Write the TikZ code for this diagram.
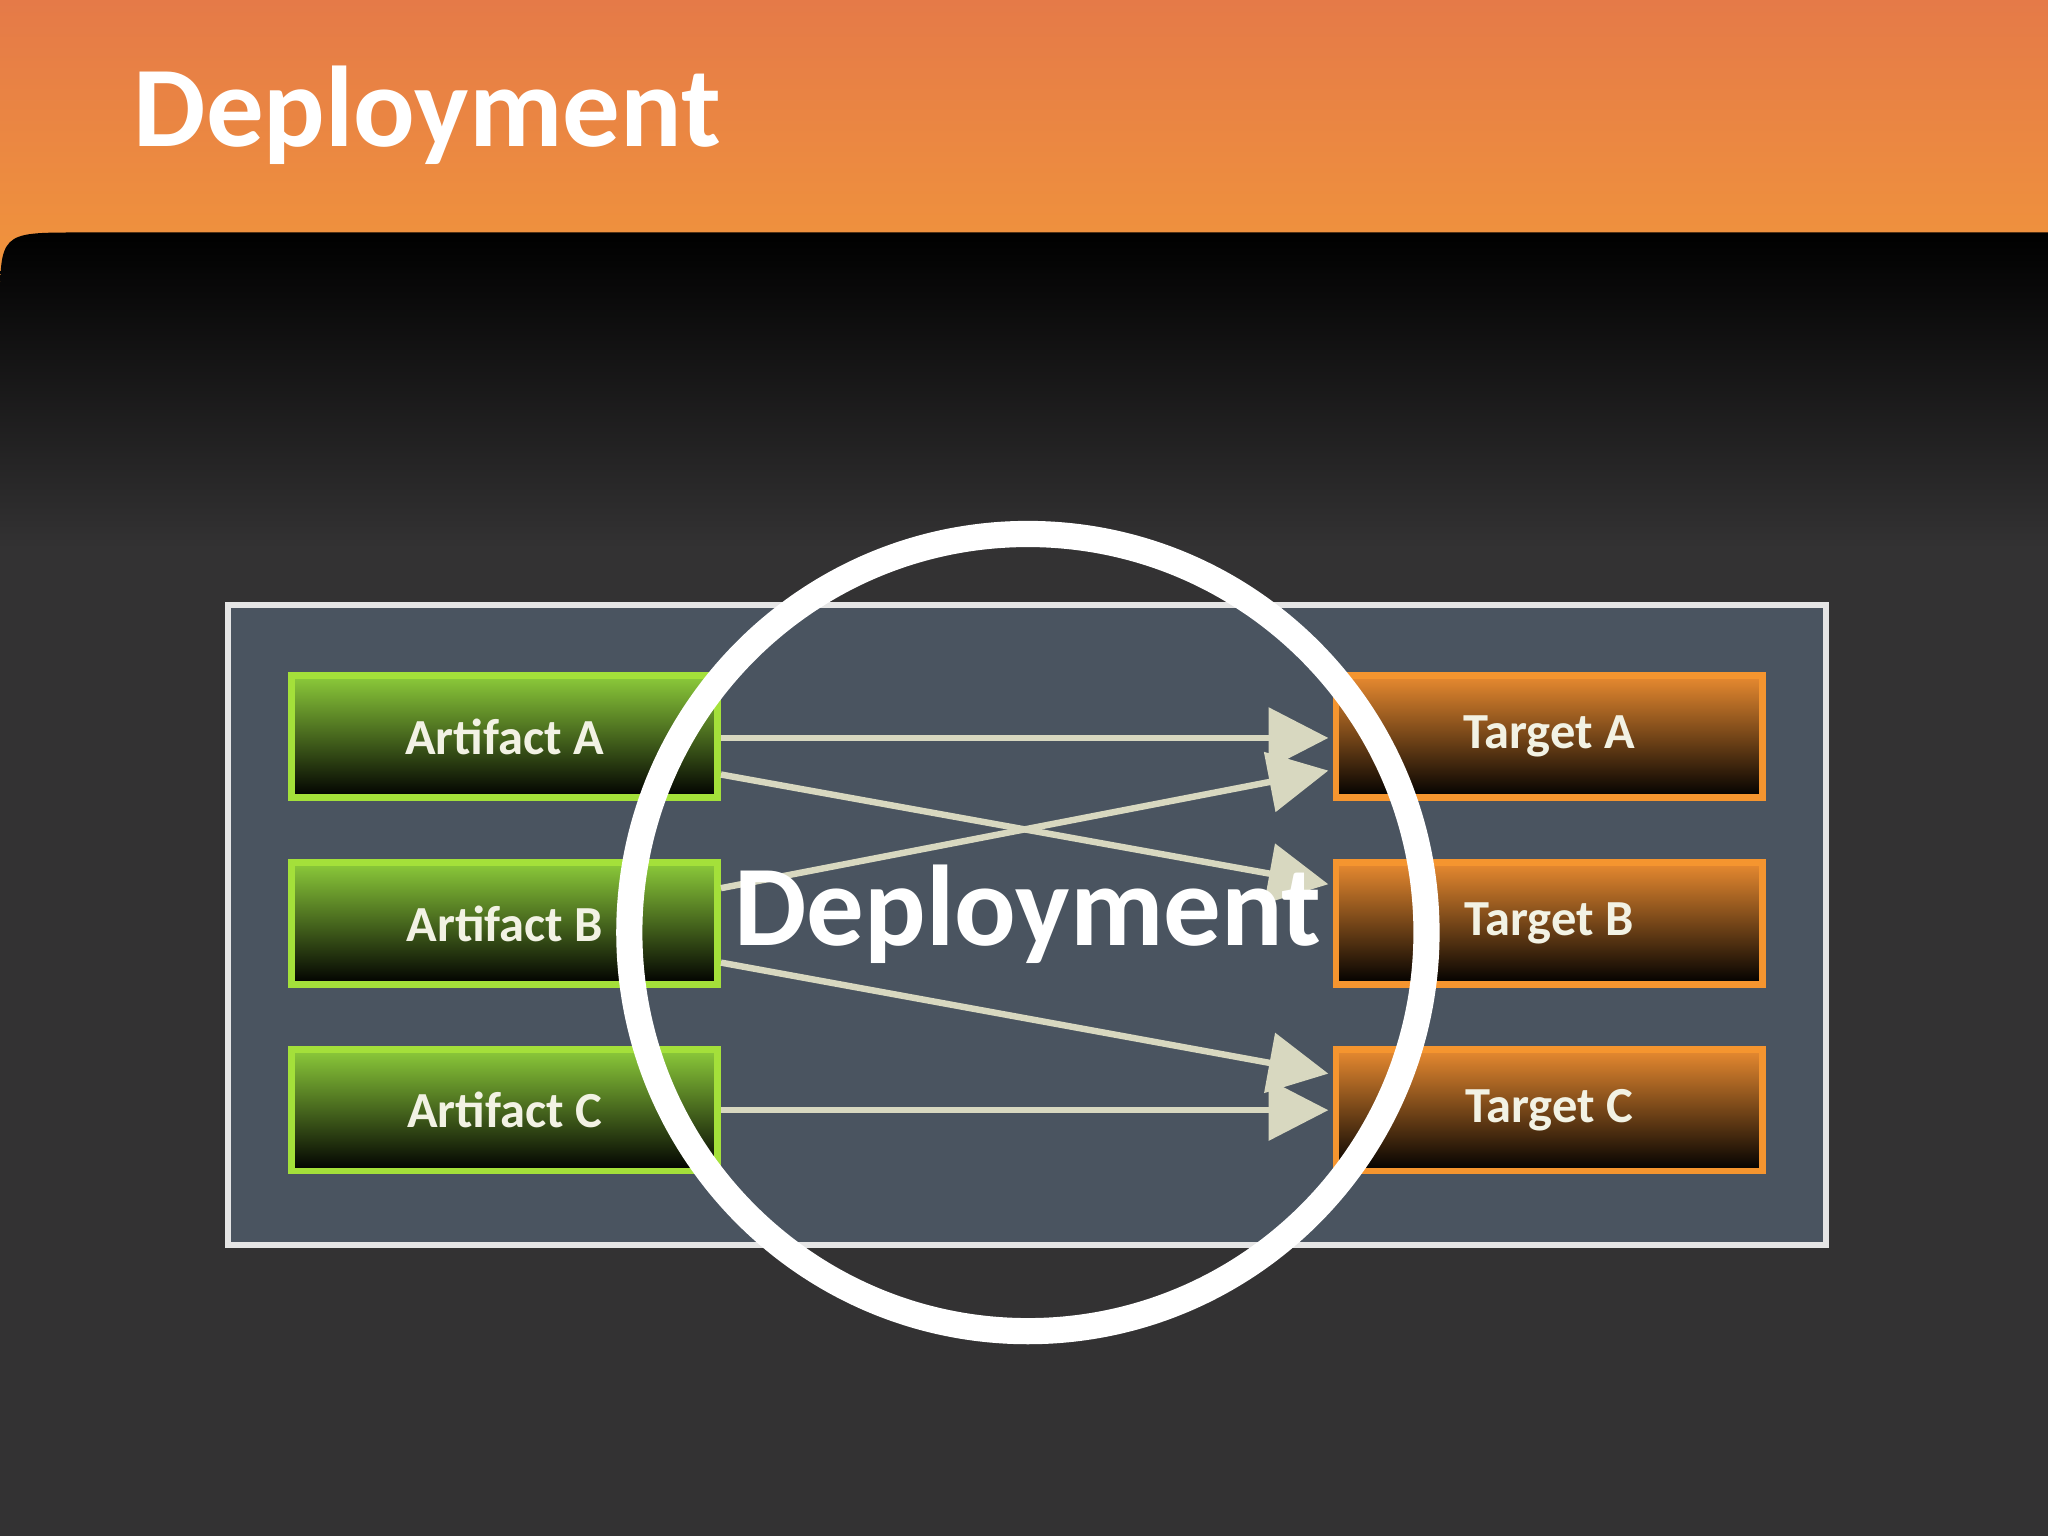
\documentclass[tikz,border=0pt]{standalone}
\usepackage{fontspec}
\setmainfont{Carlito}
\usetikzlibrary{arrows.meta,calc}
\definecolor{bg}{HTML}{333233}
\definecolor{orT}{HTML}{E57A48}
\definecolor{orB}{HTML}{F2983A}
\definecolor{panel}{HTML}{4A5460}
\definecolor{gbord}{HTML}{A4E03A}
\definecolor{gtop}{HTML}{8CCB3A}
\definecolor{gmid}{HTML}{3F7410}
\definecolor{obord}{HTML}{F5952F}
\definecolor{otop}{HTML}{E88A30}
\definecolor{omid}{HTML}{8A4A12}
\definecolor{arr}{HTML}{D8D8C0}
\definecolor{lbl}{HTML}{F2F2E4}
\tikzset{
  box/.style={minimum width=3.26cm,minimum height=0.93cm,line width=1.5pt,inner sep=0pt,
    font=\bfseries\fontsize{11}{13}\selectfont,text=lbl},
  art/.style={box,draw=gbord,top color=gtop,middle color=gmid,bottom color=black},
  tgt/.style={box,draw=obord,top color=otop,middle color=omid,bottom color=black},
  con/.style={draw=arr,line width=1.4pt,-{Triangle[length=13pt,width=13pt]}}
}
\begin{document}
\begin{tikzpicture}[x=0.01cm,y=-0.01cm]
\useasboundingbox (0,0) rectangle (1568,1176);
\fill[bg] (0,0) rectangle (1568,1176);
\shade[top color=orT,bottom color=orB] (0,0) rectangle (1568,240);
\shade[top color=black,bottom color=bg] (0,420) -- (0,238) .. controls (0,178) .. (60,178) -- (1568,178) -- (1568,420) -- cycle;
\node[anchor=west,text=white,font=\bfseries\fontsize{25}{30}\selectfont] (title) at (90,88) {Deployment};
\node[draw=white!90!black,line width=1.3pt,fill=panel,minimum width=12.23cm,minimum height=4.9cm,inner sep=0pt] (panel) at (786.5,708) {};
\node[art] (a) at (386.5,564) {Artifact A};
\node[art] (b) at (386.5,707) {Artifact B};
\node[art] (c) at (386.5,850) {Artifact C};
\node[tgt] (ta) at (1186,564) {Target A};
\node[tgt] (tb) at (1186,707) {Target B};
\node[tgt] (tc) at (1186,850) {Target C};
\coordinate (a1) at (552,565); \coordinate (a2) at (552,593);
\coordinate (b1) at (552,680); \coordinate (b2) at (552,737);
\coordinate (c1) at (552,850);
\coordinate (ta1) at (1017,565); \coordinate (ta2) at (1017,590);
\coordinate (tb1) at (1017,677); \coordinate (tc1) at (1017,822);
\coordinate (tc2) at (1017,850);
\draw[con] (a1) -- (ta1);
\draw[con] (a2) -- (tb1);
\draw[con] (b1) -- (ta2);
\draw[con] (b2) -- (tc1);
\draw[con] (c1) -- (tc2);
\node[draw=white,line width=5.7pt,circle,minimum size=6.1cm,inner sep=0pt] (ring) at (787,714) {};
\node[text=white,font=\bfseries\fontsize{25}{30}\selectfont] (dep) at (787,700) {Deployment};
\end{tikzpicture}
\end{document}
